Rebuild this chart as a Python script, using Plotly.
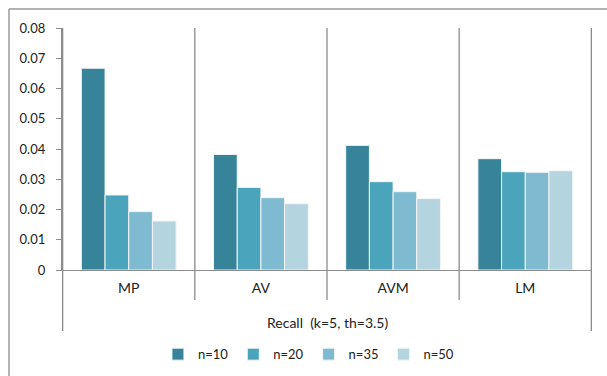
import plotly.graph_objects as go

# Recall per method for each neighbourhood size n
methods = ["MP", "AV", "AVM", "LM"]
series_names = ["n=10", "n=20", "n=35", "n=50"]
recall_n10 = [0.0667, 0.0382, 0.0412, 0.0368]
recall_n20 = [0.0248, 0.0273, 0.0292, 0.0325]
recall_n35 = [0.0193, 0.0239, 0.0259, 0.0323]
recall_n50 = [0.0162, 0.0219, 0.0236, 0.0328]
y_ticks = [0, 0.01, 0.02, 0.03, 0.04, 0.05, 0.06, 0.07, 0.08]
y_tick_text = ["0", "0.01", "0.02", "0.03", "0.04", "0.05", "0.06", "0.07", "0.08"]
axis_title = "Recall  (k=5, th=3.5)"

colors = ["#37849A", "#4AA4BC", "#7EBBD0", "#B4D4E0"]
font_family = "Lato, 'Open Sans', sans-serif"
line_gray = "#8C8C8C"

fig = go.Figure()
for name, vals, col in zip(series_names,
                           [recall_n10, recall_n20, recall_n35, recall_n50],
                           colors):
    fig.add_trace(go.Bar(
        x=methods, y=vals, name=name,
        marker=dict(color=col, line=dict(color="#F4F4F4", width=1)),
    ))

# category separators: full height inside the plot, extending below the axis
n_cat = len(methods)
for i in range(n_cat + 1):
    outer = i in (0, n_cat)
    fig.add_shape(type="line", xref="x", yref="paper",
                  x0=i - 0.5, x1=i - 0.5, y0=1, y1=-0.252 if outer else -0.124,
                  line=dict(color=line_gray, width=1.3))

# outer chart frame (top and left edges)
fig.add_shape(type="line", xref="paper", yref="paper",
              x0=-0.1, x1=1.03, y0=1.0785, y1=1.0785,
              line=dict(color="#9A9A9A", width=1.5))
fig.add_shape(type="line", xref="paper", yref="paper",
              x0=-0.1, x1=-0.1, y0=1.0785, y1=-0.45,
              line=dict(color="#9A9A9A", width=1.5))

fig.add_annotation(text=axis_title, xref="paper", yref="paper",
                   x=0.5, y=-0.215, yanchor="middle", showarrow=False,
                   font=dict(family=font_family, size=14, color="#222"))

fig.update_layout(
    width=607, height=376,
    margin=dict(l=62, r=15, t=28, b=106, autoexpand=False),
    paper_bgcolor="white", plot_bgcolor="white",
    barmode="group", bargap=0.283, bargroupgap=0,
    font=dict(family=font_family, size=13, color="#222"),
    showlegend=True,
    legend=dict(orientation="h", x=0.465, xanchor="center",
                yref="container", y=0.058, yanchor="middle",
                font=dict(family=font_family, size=13, color="#222"),
                itemwidth=30),
    xaxis=dict(showline=True, linecolor=line_gray, linewidth=1.3,
               showgrid=False, ticks="", ticklabelstandoff=5,
               tickfont=dict(size=14), automargin=False),
    yaxis=dict(range=[0, 0.08], tickvals=y_ticks, ticktext=y_tick_text,
               showline=True, linecolor=line_gray, linewidth=1.3,
               ticks="outside", ticklen=5, tickcolor=line_gray,
               showgrid=False, zeroline=False, ticklabelstandoff=8,
               tickfont=dict(size=13), automargin=False),
)

fig.write_html("out.html")
